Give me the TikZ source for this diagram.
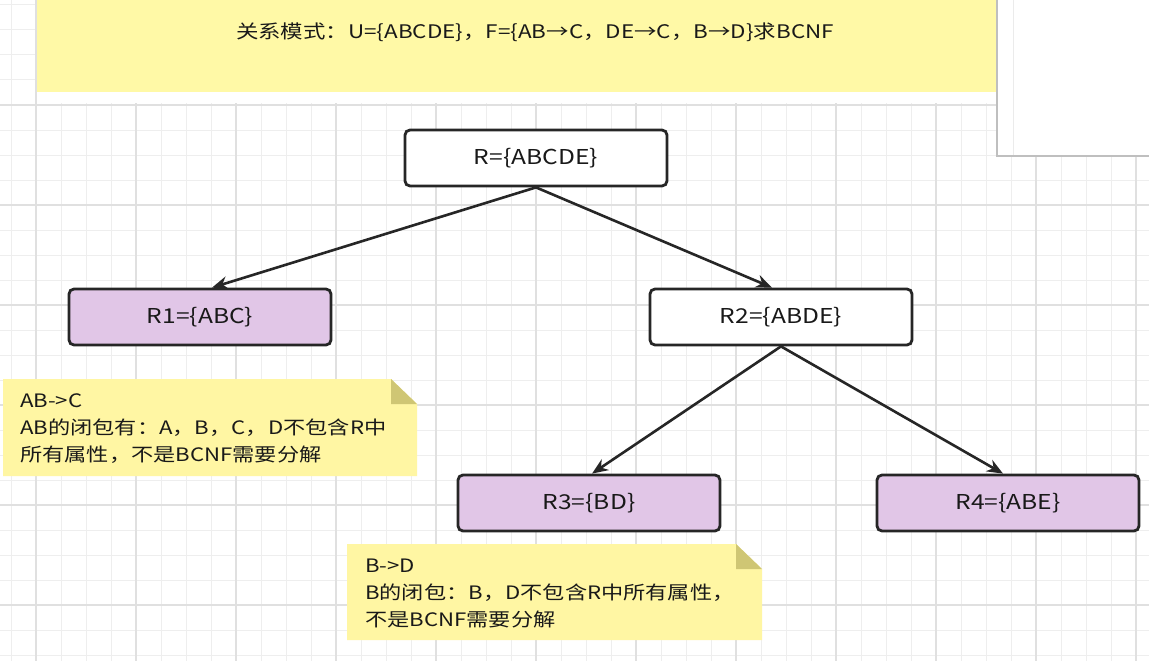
\documentclass[tikz,border=0pt]{standalone}
\usepackage{fontspec}
\setmainfont[FakeStretch=1.2]{Noto Sans CJK SC}
\usetikzlibrary{arrows.meta,calc}
\definecolor{gridminor}{HTML}{EEEEEE}
\definecolor{gridmajor}{HTML}{E0E0E0}
\definecolor{banner}{HTML}{FFF9A6}
\definecolor{notefill}{HTML}{FFF6A3}
\definecolor{notefold}{HTML}{CFC674}
\definecolor{purplefill}{HTML}{E1C6E7}
\tikzset{
  relbox/.style={draw=black!85, line width=2.8pt, rounded corners=5pt,
    minimum width=262pt, minimum height=56pt, font=\fontsize{20.5}{23}\selectfont, inner sep=0pt, text=black!90},
  whitebox/.style={relbox, fill=white},
  purplebox/.style={relbox, fill=purplefill},
  conn/.style={line width=2.6pt, draw=black!85, -{Stealth[length=16pt,width=13pt]}},
  notetext/.style={align=left, anchor=north west, inner sep=0pt,
    font=\fontsize{18.5}{27}\selectfont, text=black!90}
}
\begin{document}
\begin{tikzpicture}[x=1pt,y=-1pt]
\useasboundingbox (0,0) rectangle (1149,661);
\fill[white] (0,0) rectangle (1149,661);
% grid
\foreach \x in {11,36,...,1149} \draw[gridminor, line width=1pt] (\x,0) -- (\x,661);
\foreach \y in {5,30,...,661} \draw[gridminor, line width=1pt] (0,\y) -- (1149,\y);
\foreach \x in {36,136,...,1149} \draw[gridmajor, line width=1.5pt] (\x,0) -- (\x,661);
\foreach \y in {105,205,...,661} \draw[gridmajor, line width=1.5pt] (0,\y) -- (1149,\y);
% banner
\fill[white] (37,0) rectangle (1000,103);
\fill[banner] (37,0) rectangle (1000,92);
\node[font=\fontsize{18.7}{20}\selectfont, inner sep=0pt, text=black!90] (title) at (535,32)
  {关系模式：U=\{ABCDE\}，F=\{AB→C，DE→C，B→D\}求BCNF};
% white panel top right
\fill[black!25] (996,0) rectangle (1149,157);
\fill[white] (998,0) rectangle (1149,155);
\draw[black!8, line width=1pt] (1013,0) -- (1013,155);
% boxes
\node[whitebox] (R) at (536,158) {R=\{ABCDE\}};
\node[purplebox] (R1) at (200,317) {R1=\{ABC\}};
\node[whitebox] (R2) at (781,317) {R2=\{ABDE\}};
\node[purplebox] (R3) at (589,503) {R3=\{BD\}};
\node[purplebox] (R4) at (1008,503) {R4=\{ABE\}};
% connectors
\draw[conn] (R.south) -- ([xshift=12pt]R1.north);
\draw[conn] (R.south) -- ([xshift=-9pt]R2.north);
\draw[conn] (R2.south) -- ([xshift=3pt]R3.north);
\draw[conn] (R2.south) -- ([xshift=-5pt]R4.north);
% note 1
\fill[notefill] (3,379) -- (391,379) -- (417,404) -- (417,476) -- (3,476) -- cycle;
\fill[notefold] (391,379) -- (391,404) -- (417,404) -- cycle;
\node[notetext] (n1) at (20,393) {AB->C\\AB的闭包有：A，B，C，D不包含R中\\所有属性，不是BCNF需要分解};
% note 2
\fill[notefill] (347,544) -- (736,544) -- (762,569) -- (762,640) -- (347,640) -- cycle;
\fill[notefold] (736,544) -- (736,569) -- (762,569) -- cycle;
\node[notetext] (n2) at (365,559) {B->D\\B的闭包：B，D不包含R中所有属性，\\不是BCNF需要分解};
\end{tikzpicture}
\end{document}
